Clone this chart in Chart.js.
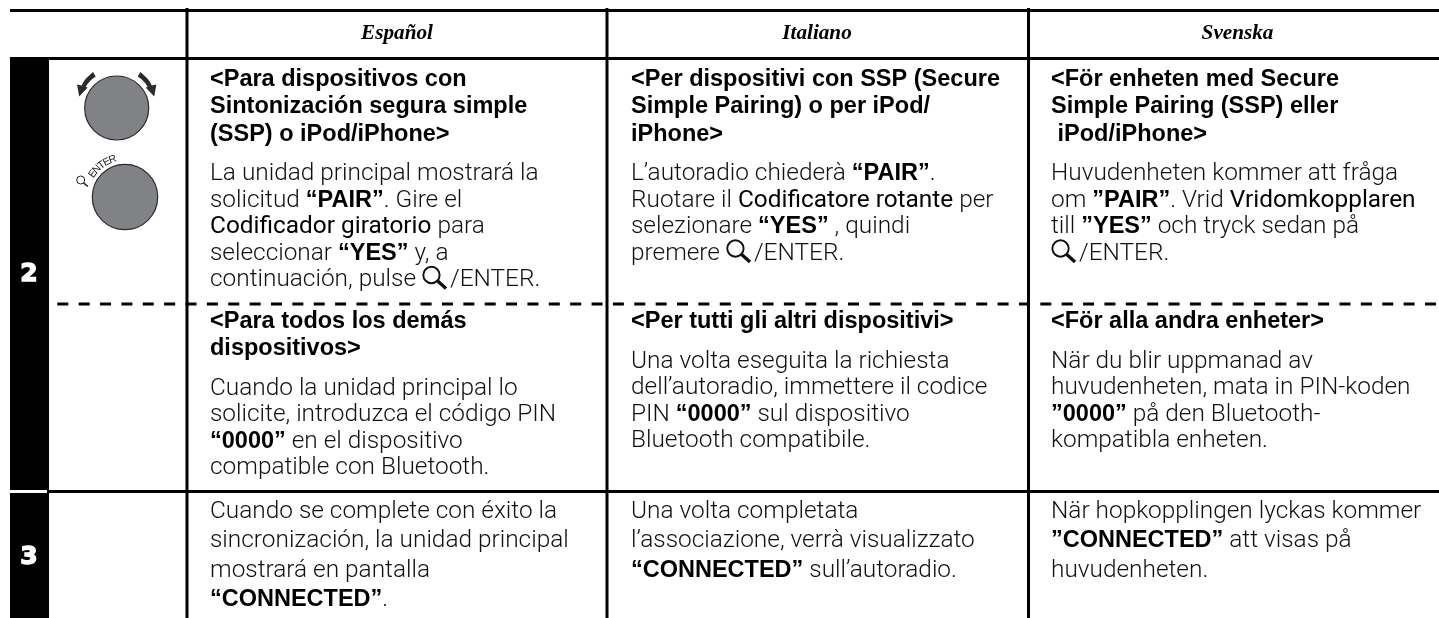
<!DOCTYPE html>
<html>
<head>
<meta charset="utf-8">
<title>Tabla</title>
<style>
  html, body { margin: 0; padding: 0; background: #fff; }
  canvas { display: block; }
</style>
<script src="https://cdn.jsdelivr.net/npm/chart.js@4"></script>
</head>
<body>
<canvas id="tableChart" width="1439" height="618"></canvas>
<script>
// table content. **x** = bold, __x__ = regular weight, {q} = search icon
const languages = ['Español', 'Italiano', 'Svenska'];
const stepNumbers = ['2', '3'];

const pairHeads = [
    ['<Para dispositivos con', 'Sintonización segura simple', '(SSP) o iPod/iPhone>'],
    ['<Per dispositivi con SSP (Secure', 'Simple Pairing) o per iPod/', 'iPhone>'],
    ['<För enheten med Secure', 'Simple Pairing (SSP) eller', ' iPod/iPhone>']
];
const pairBodies = [
    ['La unidad principal mostrará la', 'solicitud **“PAIR”**. Gire el', '__Codificador giratorio__ para', 'seleccionar **“YES”** y, a', 'continuación, pulse {q}/ENTER.'],
    ['L’autoradio chiederà **“PAIR”**.', 'Ruotare il __Codificatore rotante__ per', 'selezionare **“YES”** , quindi', 'premere {q}/ENTER.'],
    ['Huvudenheten kommer att fråga', 'om **”PAIR”**. Vrid __Vridomkopplaren__', 'till **”YES”** och tryck sedan på', '{q}/ENTER.']
];
const otherHeads = [
    ['<Para todos los demás', 'dispositivos>'],
    ['<Per tutti gli altri dispositivi>'],
    ['<För alla andra enheter>']
];
const otherBodies = [
    ['Cuando la unidad principal lo', 'solicite, introduzca el código PIN', '**“0000”** en el dispositivo', 'compatible con Bluetooth.'],
    ['Una volta eseguita la richiesta', 'dell’autoradio, immettere il codice', 'PIN **“0000”** sul dispositivo', 'Bluetooth compatibile.'],
    ['När du blir uppmanad av', 'huvudenheten, mata in PIN-koden', '**”0000”** på den Bluetooth-', 'kompatibla enheten.']
];
const doneBodies = [
    ['Cuando se complete con éxito la', 'sincronización, la unidad principal', 'mostrará en pantalla', '**“CONNECTED”**.'],
    ['Una volta completata', 'l’associazione, verrà visualizzato', '**“CONNECTED”** sull’autoradio.'],
    ['När hopkopplingen lyckas kommer', '**”CONNECTED”** att visas på', 'huvudenheten.']
];

// grid of the table, in page pixels
const columnEdges = [187, 607, 1028.5];
const columnHeaderCenters = [397, 817, 1237.5];
const columnTextStarts = [210, 631, 1051];
const solidRuleRows = [10.5, 58.5, 491.5];
const solidRuleStarts = [10, 10, 47];
const dashedRuleRow = 304;
const stepBars = [[60, 490], [493, 618]];
const stepLabelRows = [272, 555];
const knobs = [{ x: 116.7, y: 108, r: 32 }, { x: 125, y: 197, r: 32.7 }];

const bodyFont = '300 24.4px Roboto';
const boldFont = 'bold 23.5px "Liberation Sans"';
const plainFont = '400 24.4px Roboto';

const ruleStyle = { borderColor: '#000', borderWidth: 3, pointRadius: 0, showLine: true, fill: false, type: 'line', order: 1 };

const datasets = [];
solidRuleRows.forEach((row, i) => {
    datasets.push({ ...ruleStyle, data: [{ x: solidRuleStarts[i], y: row }, { x: 1439, y: row }] });
});
columnEdges.forEach(edge => {
    datasets.push({ ...ruleStyle, data: [{ x: edge, y: 8 }, { x: edge, y: 618 }] });
});
datasets.push({ ...ruleStyle, borderDash: [11, 10.37], data: [{ x: 57.3, y: dashedRuleRow }, { x: 1439, y: dashedRuleRow }] });
datasets.push({
    type: 'bar',
    data: stepBars.map(b => ({ x: 29.5, y: b })),
    backgroundColor: '#000',
    barThickness: 39,
    inflateAmount: 0,
    order: 2
});
datasets.push({
    type: 'scatter',
    data: knobs.map(k => ({ x: k.x, y: k.y })),
    pointRadius: knobs.map(k => k.r),
    pointBackgroundColor: '#808285',
    pointBorderColor: '#2b2b2b',
    pointBorderWidth: 1.2,
    order: 0
});

function drawSearchIcon(ctx, x, base, scale) {
    ctx.save();
    ctx.translate(x, base);
    ctx.scale(scale, scale);
    ctx.strokeStyle = '#111';
    ctx.lineWidth = 1.7;
    ctx.beginPath();
    ctx.arc(8.5, -10, 7.3, 0, Math.PI * 2);
    ctx.stroke();
    ctx.lineWidth = 3;
    ctx.beginPath();
    ctx.moveTo(13.8, -4.8);
    ctx.lineTo(21.5, 2);
    ctx.stroke();
    ctx.restore();
}

// one text line with mixed weights
function drawRichLine(ctx, line, x, base, color) {
    const parts = line.split(/(\*\*.*?\*\*|__.*?__|\{q\})/).filter(p => p !== '');
    let cur = x;
    parts.forEach(part => {
        if (part === '{q}') {
            drawSearchIcon(ctx, cur, base, 1.12);
            cur += 28;
            return;
        }
        let str = part;
        if (part.startsWith('**')) {
            str = part.slice(2, -2);
            ctx.font = boldFont;
            ctx.fillStyle = '#000';
        } else if (part.startsWith('__')) {
            str = part.slice(2, -2);
            ctx.font = plainFont;
            ctx.fillStyle = '#000';
        } else {
            ctx.font = bodyFont;
            ctx.fillStyle = color;
        }
        ctx.fillText(str, cur, base);
        cur += ctx.measureText(str).width;
    });
}

function drawBlock(ctx, head, body, x, start, bodyStep) {
    let base = start;
    head.forEach((line, i) => {
        ctx.font = boldFont;
        ctx.fillStyle = '#000';
        ctx.fillText(line, x, base);
        if (i < head.length - 1) base += 27.3;
    });
    base += 39.6;
    body.forEach(line => {
        drawRichLine(ctx, line, x, base, '#111');
        base += bodyStep;
    });
}

function drawKnobMarks(ctx, xs, ys) {
    const k = knobs[0];
    const cx = xs.getPixelForValue(k.x);
    const cy = ys.getPixelForValue(k.y);
    ctx.fillStyle = '#2b2b2b';
    [-1, 1].forEach(side => {
        ctx.save();
        ctx.translate(cx, cy);
        ctx.scale(side, 1);
        ctx.beginPath();
        ctx.moveTo(23.7, -36);
        ctx.lineTo(27, -33);
        ctx.quadraticCurveTo(33, -28, 35, -22.5);
        ctx.lineTo(39.7, -23.5);
        ctx.lineTo(37.5, -11.5);
        ctx.lineTo(29, -20.5);
        ctx.lineTo(31, -21);
        ctx.quadraticCurveTo(28, -27, 21, -31.5);
        ctx.closePath();
        ctx.fill();
        ctx.restore();
    });

    // curved ENTER label over the second knob
    const e = knobs[1];
    const ex = xs.getPixelForValue(e.x);
    const ey = ys.getPixelForValue(e.y);
    ctx.font = '10.5px "Liberation Sans"';
    ctx.fillStyle = '#222';
    ctx.textAlign = 'center';
    'ENTER'.split('').forEach((ch, i) => {
        const a = -2.52 + i * 0.157;
        ctx.save();
        ctx.translate(ex + Math.cos(a) * 36.5, ey + Math.sin(a) * 36.5);
        ctx.rotate(a + Math.PI / 2);
        ctx.fillText(ch, 0, 0);
        ctx.restore();
    });
    ctx.textAlign = 'left';
    ctx.save();
    ctx.translate(ex - 44.3, ey - 17);
    ctx.strokeStyle = '#222';
    ctx.lineWidth = 1;
    ctx.beginPath();
    ctx.arc(0, 0, 4, 0, Math.PI * 2);
    ctx.stroke();
    ctx.lineWidth = 1.6;
    ctx.beginPath();
    ctx.moveTo(2.8, 2.8);
    ctx.lineTo(7.2, 6.5);
    ctx.stroke();
    ctx.restore();
}

const tableText = {
    id: 'tableText',
    afterDatasetsDraw(chart) {
        const ctx = chart.ctx;
        const xs = chart.scales.x;
        const ys = chart.scales.y;
        ctx.save();
        ctx.textBaseline = 'alphabetic';

        ctx.font = 'italic bold 21.2px "Liberation Serif"';
        ctx.fillStyle = '#000';
        ctx.textAlign = 'center';
        languages.forEach((lang, i) => {
            ctx.fillText(lang, xs.getPixelForValue(columnHeaderCenters[i]), ys.getPixelForValue(39));
        });

        // step numbers
        ctx.font = 'bold 25px "DejaVu Sans"';
        ctx.fillStyle = '#fff';
        ctx.strokeStyle = '#fff';
        ctx.lineWidth = 1.4;
        stepNumbers.forEach((n, i) => {
            const px = xs.getPixelForValue(29);
            const py = ys.getPixelForValue(stepLabelRows[i] + 9);
            ctx.strokeText(n, px, py);
            ctx.fillText(n, px, py);
        });

        ctx.textAlign = 'left';
        languages.forEach((lang, i) => {
            const x = xs.getPixelForValue(columnTextStarts[i]);
            drawBlock(ctx, pairHeads[i], pairBodies[i], x, ys.getPixelForValue(86), 26.5);
            drawBlock(ctx, otherHeads[i], otherBodies[i], x, ys.getPixelForValue(328), 26.5);
            drawBlock(ctx, [], doneBodies[i], x, ys.getPixelForValue(518 - 39.6), 29.3);
        });

        drawKnobMarks(ctx, xs, ys);
        ctx.restore();
    }
};

new Chart(document.getElementById('tableChart'), {
    type: 'scatter',
    data: { datasets: datasets },
    plugins: [tableText],
    options: {
        responsive: false,
        animation: false,
        events: [],
        layout: { padding: 0, autoPadding: false },
        plugins: { legend: { display: false }, tooltip: { enabled: false } },
        scales: {
            x: { type: 'linear', min: 0, max: 1439, offset: false, display: false },
            y: { type: 'linear', min: 0, max: 618, offset: false, reverse: true, display: false }
        }
    }
});
</script>
</body>
</html>
